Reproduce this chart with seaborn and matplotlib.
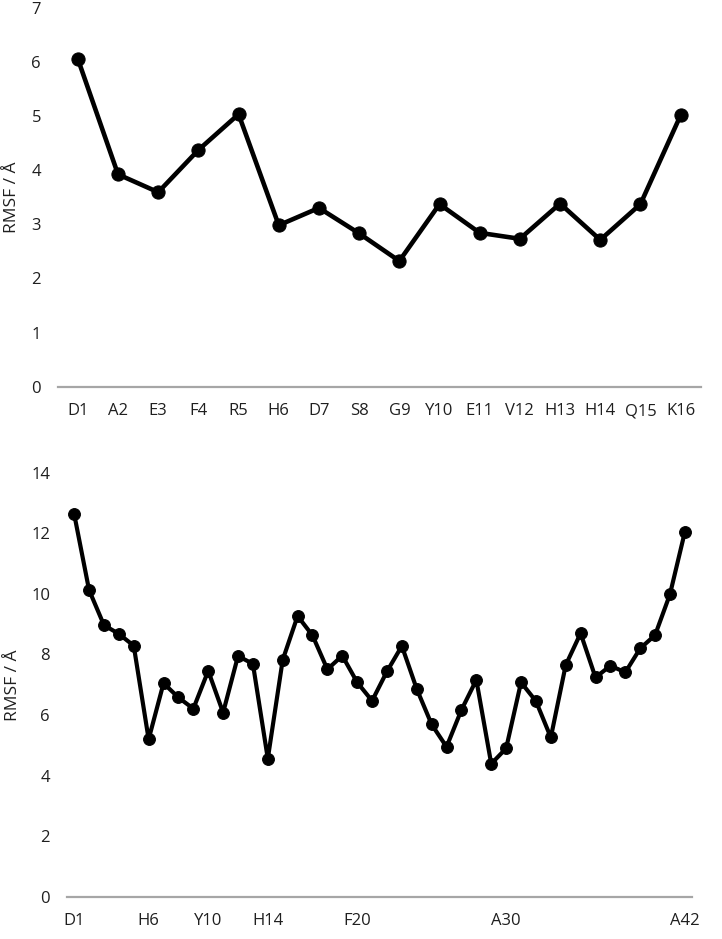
import numpy as np
import pandas as pd
import matplotlib
matplotlib.use("Agg")
import matplotlib.pyplot as plt
import seaborn as sns

# residues and RMSF values (A)
res_16 = ["D1", "A2", "E3", "F4", "R5", "H6", "D7", "S8", "G9", "Y10",
          "E11", "V12", "H13", "H14", "Q15", "K16"]
rmsf_16 = [6.05, 3.92, 3.59, 4.37, 5.03, 2.98, 3.30, 2.83, 2.32, 3.37,
           2.84, 2.73, 3.38, 2.71, 3.37, 5.01]

seq_42 = "DAEFRHDSGYEVHHQKLVFFAEDVGSNKGAIIGLMVGGVVIA"
res_42 = [f"{aa}{i + 1}" for i, aa in enumerate(seq_42)]
rmsf_42 = [12.64, 10.13, 8.97, 8.68, 8.29, 5.20, 7.05, 6.58, 6.21, 7.46,
           6.08, 7.95, 7.69, 4.56, 7.82, 9.27, 8.63, 7.51, 7.96, 7.08,
           6.47, 7.44, 8.28, 6.86, 5.69, 4.95, 6.17, 7.16, 4.39, 4.90,
           7.08, 6.46, 5.26, 7.65, 8.70, 7.24, 7.63, 7.41, 8.20, 8.64,
           9.99, 12.05]
ticks_42 = ["D1", "H6", "Y10", "H14", "F20", "A30", "A42"]

sns.set_style("white")
plt.rcParams["font.family"] = ["Open Sans", "DejaVu Sans"]
text_col = "#1f1f1f"

df16 = pd.DataFrame({"pos": np.arange(len(res_16)), "res": res_16, "rmsf": rmsf_16})
df42 = pd.DataFrame({"pos": np.arange(len(res_42)), "res": res_42, "rmsf": rmsf_42})

fig = plt.figure(figsize=(7.22, 9.39), dpi=100)
ax1 = fig.add_axes([0.080, 0.5882, 0.8905, 0.4038])
ax2 = fig.add_axes([0.0924, 0.0450, 0.8665, 0.4515])


def style_axes(ax, ymax, step, label_x):
    ax.set_ylim(0, ymax)
    ax.set_yticks(np.arange(0, ymax + 0.1, step))
    for s in ["top", "right", "left"]:
        ax.spines[s].set_visible(False)
    ax.spines["bottom"].set_color("#a6a6a6")
    ax.spines["bottom"].set_linewidth(1.6)
    ax.tick_params(axis="both", length=0, labelsize=12, colors=text_col)
    ax.tick_params(axis="x", pad=12)
    ax.tick_params(axis="y", pad=12)
    ax.set_xlabel("")
    ax.set_ylabel("RMSF / Å", fontsize=12.5, color=text_col)
    ax.yaxis.set_label_coords(label_x, 0.5)
    ax.grid(False)


sns.lineplot(data=df16, x="pos", y="rmsf", ax=ax1, color="black",
             linewidth=3.3, marker="o", markersize=9.5,
             markeredgecolor="black", markerfacecolor="black")
ax1.set_xlim(-0.5, len(res_16) - 0.5)
ax1.set_xticks(df16["pos"])
ax1.set_xticklabels(res_16)
style_axes(ax1, 7, 1, -0.058)

sns.lineplot(data=df42, x="pos", y="rmsf", ax=ax2, color="black",
             linewidth=3.0, marker="o", markersize=8.5,
             markeredgecolor="black", markerfacecolor="black")
ax2.set_xlim(-0.5, len(res_42) - 0.5)
ax2.set_xticks([res_42.index(t) for t in ticks_42])
ax2.set_xticklabels(ticks_42)
style_axes(ax2, 14, 2, -0.073)

fig.savefig("out.png", dpi=100)
